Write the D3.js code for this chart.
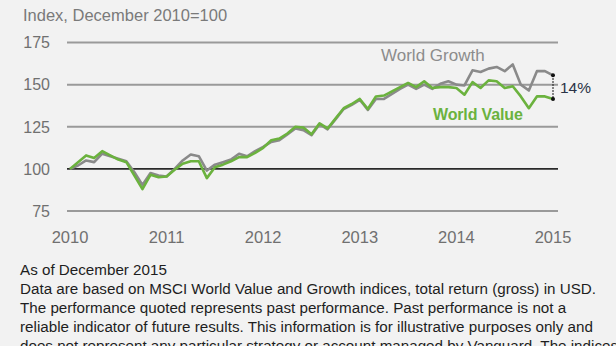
<!DOCTYPE html>
<html><head><meta charset="utf-8">
<script src="https://cdn.jsdelivr.net/npm/d3@7"></script>
<style>
html,body{margin:0;padding:0;background:#f2f2f2;overflow:hidden;}
svg{display:block;font-family:"Liberation Sans",Arial,sans-serif;}
</style></head>
<body>
<svg id="c" width="616" height="346"></svg>
<script>
// ---- data ----
const yearLabels = ["2010","2011","2012","2013","2014","2015"];
const yTicks = [75,100,125,150,175];
const worldGrowth = [100,102,105,104,109,107.5,106,104.5,98,90.5,97.5,96,95.5,100,105,108.5,107.5,99,102.5,104,105.5,109,107.5,110.5,113,116,117,120.5,124,123,120,126.5,123.5,129.5,135.5,138,141,135,141.5,141.5,144.5,147.5,150,147.5,150,147.5,150.5,152,150,149.5,158.5,157.5,159.5,160.5,158,162,150,146.5,158,158,155.5];
const worldValue = [100,104,108,106.5,110.5,108,105.5,104,96,88,96.5,95,95.5,99.5,103,104.5,104.5,94.5,101,102.5,104.5,107,107,109.5,112.5,117,118,121,125,124.5,120.5,127,124,130,136,138.5,141.5,135.5,143,143.5,146,148.5,151,148.5,152,148,148.5,148.5,148,144,151.5,148,152.5,152,148,149,143,136,143,143,141.5];
const seriesNames = ["World Growth","World Value"];
const gapLabel = "14%";
const titleText = "Index, December 2010=100";
const notes = [
 "As of December 2015",
 "Data are based on MSCI World Value and Growth indices, total return (gross) in USD.",
 "The performance quoted represents past performance. Past performance is not a",
 "reliable indicator of future results. This information is for illustrative purposes only and",
 "does not represent any particular strategy or account managed by Vanguard. The indices performance"
];

// ---- chart ----
const svg = d3.select("#c");
svg.append("rect").attr("width",616).attr("height",346).attr("fill","#f2f2f2");

const nMonths = worldGrowth.length - 1;
const x = d3.scaleLinear().domain([0, nMonths]).range([70, 553]);
const xYear = d3.scaleLinear().domain([0, yearLabels.length-1]).range([70, 553]);
const y = d3.scaleLinear().domain([75,175]).range([211, 42.5]);

// title
svg.append("text").attr("x",23).attr("y",21).attr("fill","#7a7a7a")
  .attr("font-size",16.5).text(titleText);

// gridlines
const grid = svg.append("g");
grid.selectAll("line").data(yTicks).join("line")
  .attr("x1",67).attr("x2",558)
  .attr("y1",d=>y(d)).attr("y2",d=>y(d))
  .attr("stroke",d=>d===100?"#2a2a2a":"#9a9a9a")
  .attr("stroke-width",d=>d===100?1.6:2);

// y labels
svg.append("g").selectAll("text").data(yTicks).join("text")
  .attr("x",50).attr("y",d=>y(d)).attr("dy","0.36em")
  .attr("text-anchor","end").attr("fill","#707070").attr("font-size",16)
  .text(d=>d);

// x labels
svg.append("g").selectAll("text").data(yearLabels).join("text")
  .attr("x",(d,i)=>xYear(i)).attr("y",243)
  .attr("text-anchor","middle").attr("fill","#707070").attr("font-size",16.5)
  .text(d=>d);

// lines
const line = d3.line().x((d,i)=>x(i)).y(d=>y(d));
svg.append("path").datum(worldGrowth).attr("d",line)
  .attr("fill","none").attr("stroke","#8a8a8a").attr("stroke-width",2.6)
  .attr("stroke-linejoin","round");
svg.append("path").datum(worldValue).attr("d",line)
  .attr("fill","none").attr("stroke","#6bb23e").attr("stroke-width",2.6)
  .attr("stroke-linejoin","round");

// series labels
svg.append("text").attr("x",381).attr("y",61).attr("fill","#8c8c8c")
  .attr("font-size",17).text(seriesNames[0]);
svg.append("text").attr("x",433).attr("y",120).attr("fill","#6bb23e")
  .attr("font-size",16).attr("font-weight","bold").attr("letter-spacing",-0.15)
  .text(seriesNames[1]);

// gap marker
const gEnd = worldGrowth[nMonths], vEnd = worldValue[nMonths];
svg.append("line").attr("x1",x(nMonths)).attr("x2",x(nMonths))
  .attr("y1",y(gEnd)).attr("y2",y(vEnd))
  .attr("stroke","#111").attr("stroke-width",1.3).attr("stroke-dasharray","1.5,1.5");
svg.append("g").selectAll("circle").data([gEnd,vEnd]).join("circle")
  .attr("cx",x(nMonths)).attr("cy",d=>y(d)).attr("r",2).attr("fill","#111");
svg.append("text").attr("x",560).attr("y",(y(gEnd)+y(vEnd))/2).attr("dy","0.36em")
  .attr("fill","#2b3346").attr("font-size",15.5).text(gapLabel);

// notes
svg.append("g").selectAll("text").data(notes).join("text")
  .attr("x",20).attr("y",(d,i)=>275+i*19)
  .attr("fill","#1e1e1e").attr("font-size",15.2)
  .text(d=>d);
</script>
</body></html>
